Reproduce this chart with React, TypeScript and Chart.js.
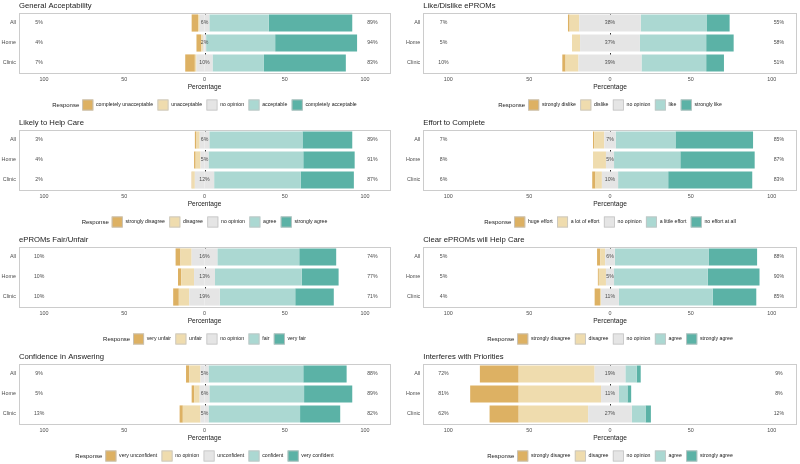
import React, { useEffect, useRef } from "react";
import { Chart, registerables } from "chart.js";
Chart.register(...registerables);

const FONT = "'Liberation Sans', Arial, Helvetica, sans-serif";

const groups = ["All", "Home", "Clinic"];
const xTickValues = [-100, -50, 0, 50, 100];
const levelColors = ["#DDB163", "#EFDCAE", "#E5E5E5", "#ABD8D2", "#5BB2A6"];

// values per group: [level1, level2, neutral, level4, level5] in percent
const acceptTitle = "General Acceptability";
const acceptLevels = ["completely unacceptable", "unacceptable", "no opinion", "acceptable", "completely acceptable"];
const acceptValues = [[4, 1, 6, 37, 52], [3, 1, 2, 43, 51], [6, 1, 10, 32, 51]];
const acceptLow = [5, 4, 7];
const acceptMid = [6, 2, 10];
const acceptHigh = [89, 94, 83];

const likeTitle = "Like/Dislike ePROMs";
const likeLevels = ["strongly dislike", "dislike", "no opinion", "like", "strongly like"];
const likeValues = [[1, 6, 38, 41, 14], [0, 5, 37, 41, 17], [2, 8, 39, 40, 11]];
const likeLow = [7, 5, 10];
const likeMid = [38, 37, 39];
const likeHigh = [55, 58, 51];

const helpTitle = "Likely to Help Care";
const helpLevels = ["strongly disagree", "disagree", "no opinion", "agree", "strongly agree"];
const helpValues = [[1, 2, 6, 58, 31], [1, 3, 5, 59, 32], [0.5, 1.5, 12, 54, 33]];
const helpLow = [3, 4, 2];
const helpMid = [6, 5, 12];
const helpHigh = [89, 91, 87];

const effortTitle = "Effort to Complete";
const effortLevels = ["huge effort", "a lot of effort", "no opinion", "a little effort", "no effort at all"];
const effortValues = [[0.7, 6.3, 7, 37, 48], [0, 8, 5, 41, 46], [2, 4, 10, 31, 52]];
const effortLow = [7, 8, 6];
const effortMid = [7, 5, 10];
const effortHigh = [85, 87, 83];

const fairTitle = "ePROMs Fair/Unfair";
const fairLevels = ["very unfair", "unfair", "no opinion", "fair", "very fair"];
const fairValues = [[3, 7, 16, 51, 23], [2, 8, 13, 54, 23], [3.5, 6.5, 19, 47, 24]];
const fairLow = [10, 10, 10];
const fairMid = [16, 13, 19];
const fairHigh = [74, 77, 71];

const clearTitle = "Clear ePROMs will Help Care";
const clearLevels = ["strongly disagree", "disagree", "no opinion", "agree", "strongly agree"];
const clearValues = [[2, 3, 6, 58, 30], [0.6, 4.4, 5, 58, 32], [3.3, 0.7, 11, 58, 27]];
const clearLow = [5, 5, 4];
const clearMid = [6, 5, 11];
const clearHigh = [88, 90, 85];

const confTitle = "Confidence in Answering";
const confLevels = ["very unconfident", "no opinion", "unconfident", "confident", "very confident"];
const confValues = [[2, 7, 5, 59, 27], [1.5, 3.5, 6, 59, 30], [2, 11, 5, 57, 25]];
const confLow = [9, 5, 13];
const confMid = [5, 6, 5];
const confHigh = [88, 89, 82];

const interTitle = "Interferes with Priorities";
const interLevels = ["strongly disagree", "disagree", "no opinion", "agree", "strongly agree"];
const interValues = [[24, 47, 19, 7, 2.5], [30, 51, 11, 5.3, 2.3], [18, 43, 27, 8.5, 3.3]];
const interLow = [72, 81, 62];
const interMid = [19, 11, 27];
const interHigh = [9, 8, 12];

type PanelCfg = {
  title: string;
  levels: string[];
  values: number[][];
  low: number[];
  mid: number[];
  high: number[];
};

const panels: PanelCfg[] = [
  { title: acceptTitle, levels: acceptLevels, values: acceptValues, low: acceptLow, mid: acceptMid, high: acceptHigh },
  { title: likeTitle, levels: likeLevels, values: likeValues, low: likeLow, mid: likeMid, high: likeHigh },
  { title: helpTitle, levels: helpLevels, values: helpValues, low: helpLow, mid: helpMid, high: helpHigh },
  { title: effortTitle, levels: effortLevels, values: effortValues, low: effortLow, mid: effortMid, high: effortHigh },
  { title: fairTitle, levels: fairLevels, values: fairValues, low: fairLow, mid: fairMid, high: fairHigh },
  { title: clearTitle, levels: clearLevels, values: clearValues, low: clearLow, mid: clearMid, high: clearHigh },
  { title: confTitle, levels: confLevels, values: confValues, low: confLow, mid: confMid, high: confHigh },
  { title: interTitle, levels: interLevels, values: interValues, low: interLow, mid: interMid, high: interHigh },
];

const CANVAS_W = 400;
const CANVAS_H = 114;
const CELL_TOPS = [0, 117, 234, 351];

function LikertPanel({ cfg, col }: { cfg: PanelCfg; col: number }) {
  const ref = useRef<HTMLCanvasElement | null>(null);
  useEffect(() => {
    if (!ref.current) return;
    const yWidth = col === 0 ? 19 : 23.3;
    const padRight = col === 0 ? 10 : 3.3;
    const v = cfg.values;
    const base = { barPercentage: 0.86, categoryPercentage: 1, borderWidth: 0 };
    const datasets = [
      { label: cfg.levels[2], data: v.map((r) => -r[2] / 2), backgroundColor: levelColors[2], ...base },
      { label: cfg.levels[1], data: v.map((r) => -r[1]), backgroundColor: levelColors[1], ...base },
      { label: cfg.levels[0], data: v.map((r) => -r[0]), backgroundColor: levelColors[0], ...base },
      { label: cfg.levels[2], data: v.map((r) => r[2] / 2), backgroundColor: levelColors[2], ...base },
      { label: cfg.levels[3], data: v.map((r) => r[3]), backgroundColor: levelColors[3], ...base },
      { label: cfg.levels[4], data: v.map((r) => r[4]), backgroundColor: levelColors[4], ...base },
    ];

    const zeroLine = {
      id: "zeroLine",
      beforeDatasetsDraw(chart: any) {
        const { ctx, chartArea, scales } = chart;
        const x = Math.round(scales.x.getPixelForValue(0)) + 0.5;
        ctx.save();
        ctx.strokeStyle = "#333333";
        ctx.lineWidth = 1;
        ctx.setLineDash([2.5, 2.5]);
        ctx.beginPath();
        ctx.moveTo(x, chartArea.top);
        ctx.lineTo(x, chartArea.bottom);
        ctx.stroke();
        ctx.restore();
      },
    };

    const decorations = {
      id: "decorations",
      afterDatasetsDraw(chart: any) {
        const { ctx, chartArea, scales } = chart;
        ctx.save();
        ctx.fillStyle = "#4d4d4d";
        ctx.font = `5.2px ${FONT}`;
        ctx.textAlign = "center";
        ctx.textBaseline = "middle";
        groups.forEach((_, i) => {
          const y = scales.y.getPixelForValue(i);
          ctx.fillText(`${cfg.low[i]}%`, scales.x.getPixelForValue(-103), y);
          ctx.fillText(`${cfg.mid[i]}%`, scales.x.getPixelForValue(0), y);
          ctx.fillText(`${cfg.high[i]}%`, scales.x.getPixelForValue(104.5), y);
        });
        // panel border
        ctx.strokeStyle = "#cccccc";
        ctx.lineWidth = 1;
        ctx.strokeRect(
          Math.round(chartArea.left) + 0.5,
          Math.round(chartArea.top) + 0.5,
          Math.round(chartArea.right - chartArea.left),
          Math.round(chartArea.bottom - chartArea.top)
        );
        // title
        ctx.fillStyle = "#1a1a1a";
        ctx.font = `7.7px ${FONT}`;
        ctx.textAlign = "left";
        ctx.fillText(cfg.title, chartArea.left, 5.8);
        // legend
        const cx = (chartArea.left + chartArea.right) / 2;
        const ly = 105;
        const titleFont = `6px ${FONT}`;
        const itemFont = `5.2px ${FONT}`;
        ctx.font = titleFont;
        const wTitle = ctx.measureText("Response").width;
        ctx.font = itemFont;
        const widths = cfg.levels.map((l) => ctx.measureText(l).width);
        const key = 11;
        let total = wTitle + 3;
        widths.forEach((w, i) => {
          total += key + 2.7 + w + (i < widths.length - 1 ? 4.4 : 0);
        });
        let x = cx - total / 2;
        ctx.fillStyle = "#1a1a1a";
        ctx.font = titleFont;
        ctx.fillText("Response", x, ly);
        x += wTitle + 3;
        cfg.levels.forEach((l, i) => {
          ctx.fillStyle = levelColors[i];
          ctx.fillRect(x, ly - key / 2, key, key);
          ctx.strokeStyle = "#c4c4c4";
          ctx.lineWidth = 0.8;
          ctx.strokeRect(x + 0.4, ly - key / 2 + 0.4, key - 0.8, key - 0.8);
          x += key + 2.7;
          ctx.fillStyle = "#1a1a1a";
          ctx.font = itemFont;
          ctx.fillText(l, x, ly);
          x += widths[i] + 4.4;
        });
        ctx.restore();
      },
    };

    const chart = new Chart(ref.current, {
      type: "bar",
      data: { labels: groups, datasets },
      options: {
        indexAxis: "y",
        responsive: false,
        animation: false,
        events: [],
        layout: { padding: { top: 13, left: 0, right: padRight, bottom: CANVAS_H - 92 } },
        plugins: { legend: { display: false }, tooltip: { enabled: false }, title: { display: false } },
        scales: {
          x: {
            type: "linear",
            stacked: true,
            min: -115.5,
            max: 115.5,
            grid: { display: false, drawTicks: false },
            border: { display: false },
            afterBuildTicks: (scale: any) => {
              scale.ticks = xTickValues.map((value) => ({ value }));
            },
            afterFit: (scale: any) => {
              scale.height = 19;
            },
            ticks: {
              padding: 3,
              color: "#4d4d4d",
              font: { family: FONT, size: 5.4 },
              maxRotation: 0,
              autoSkip: false,
              callback: (val: any) => String(Math.abs(Number(val))),
            },
            title: {
              display: true,
              text: "Percentage",
              color: "#1a1a1a",
              font: { family: FONT, size: 6.6 },
              padding: { top: 0, bottom: 1 },
            },
          },
          y: {
            stacked: true,
            grid: { display: false, drawTicks: false },
            border: { display: false },
            afterFit: (scale: any) => {
              scale.width = yWidth;
            },
            ticks: {
              padding: 3,
              color: "#4d4d4d",
              font: { family: FONT, size: 5.4 },
            },
          },
        },
      },
      plugins: [zeroLine, decorations],
    } as any);
    return () => chart.destroy();
  }, [cfg, col]);
  return <canvas ref={ref} width={CANVAS_W} height={CANVAS_H} style={{ display: "block", width: CANVAS_W, height: CANVAS_H }} />;
}

export default function App() {
  return (
    <div
      style={{
        position: "fixed",
        left: 0,
        top: 0,
        width: 800,
        height: 464,
        background: "#ffffff",
        overflow: "hidden",
      }}
    >
      {panels.map((p, i) => {
        const col = i % 2;
        const row = Math.floor(i / 2);
        return (
          <div key={i} style={{ position: "absolute", left: col * 400, top: CELL_TOPS[row], width: CANVAS_W, height: CANVAS_H }}>
            <LikertPanel cfg={p} col={col} />
          </div>
        );
      })}
    </div>
  );
}
